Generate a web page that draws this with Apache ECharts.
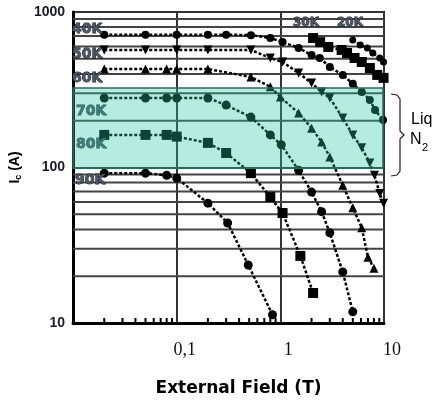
<!DOCTYPE html>
<html>
<head>
<meta charset="utf-8">
<script src="https://cdn.jsdelivr.net/npm/echarts@6/dist/echarts.min.js"></script>
<style>
html, body { margin: 0; padding: 0; background: #fff; }
#chart { width: 440px; height: 403px; }
</style>
</head>
<body>
<div id="chart"></div>
<script>
// external field (T), critical current Ic (A)
const k20 = [[5.0,660],[5.9,614],[6.9,587],[7.8,545],[9.1,506],[9.9,477]];
const k30 = [[2.07,680],[2.42,640],[2.9,596],[3.9,570],[4.4,545],[5.2,506],[6.1,477],[7.3,436],[8.6,394],[9.9,377]];
const k40 = [[0.02,715],[0.05,715],[0.1,715],[0.2,715],[0.3,715],[0.52,710],[0.8,681],[1.05,641],[1.5,587],[2.0,529],[2.4,506],[3.0,443],[4.0,394],[5.0,345],[6.1,306],[7.3,272],[8.2,234],[9.8,202]];
const k50 = [[0.02,570],[0.05,570],[0.1,570],[0.2,570],[0.52,570],[0.8,506],[1.05,477],[1.5,405],[2.0,349],[2.5,306],[3.0,280],[4.0,208],[5.0,162],[6.1,134],[7.3,107],[8.1,89],[9.1,68],[9.9,59]];
const k60 = [[0.02,430],[0.05,430],[0.08,430],[0.1,430],[0.2,430],[0.52,382],[0.8,330],[1.0,284],[1.5,224],[2.0,179],[2.5,146],[3.0,117],[4.0,77],[5.0,55],[6.1,41],[7.0,26.5],[8.0,22.5]];
const k70 = [[0.02,280],[0.05,280],[0.08,280],[0.1,280],[0.2,280],[0.3,252],[0.52,211],[0.8,162],[1.02,140],[1.5,96],[2.0,69.5],[2.5,52],[3.0,38],[4.0,21.3],[5.0,11.8]];
const k80 = [[0.02,162],[0.05,162],[0.08,162],[0.1,158],[0.2,144],[0.3,124],[0.52,92],[0.8,64.5],[1.05,51],[1.56,27],[2.07,15.6]];
const k90 = [[0.02,92],[0.05,92],[0.08,89],[0.1,85.5],[0.2,59],[0.31,44],[0.49,23.6],[0.84,11.3]];

const xRange = [0.01, 10];
const yRange = [10, 1000];
const xTickValues = [0.1, 1, 10];
const xTickText = ['0,1', '1', '10'];
const gridLevels = [20,30,40,50,60,70,80,90,200,300,400,500,600,700,800,900];
const xMinor = [0.02,0.03,0.04,0.05,0.06,0.07,0.08,0.09,0.2,0.3,0.4,0.5,0.6,0.7,0.8,0.9,2,3,4,5,6,7,8,9];
const liqN2 = [99, 325];  // Ic band shaded for liquid nitrogen

var chart = echarts.init(document.getElementById('chart'));

function curve(name, data, symbol, size, rotate) {
    return {
        name: name,
        type: 'line',
        data: data,
        symbol: symbol,
        symbolSize: size,
        symbolRotate: rotate || 0,
        showSymbol: true,
        z: 3,
        lineStyle: { color: '#000', width: 2.5, type: [3, 2] },
        itemStyle: { color: '#000' }
    };
}

function tempLabel(text, x, y, size) {
    return {
        type: 'text', x: x, y: y, z: 5,
        style: {
            text: text,
            font: 'bold ' + size + 'px "DejaVu Sans"',
            fill: '#4b5566', stroke: '#111', lineWidth: 0.8,
            verticalAlign: 'middle'
        }
    };
}

var option = {
    animation: false,
    grid: { left: 72, right: 56, top: 12, bottom: 80, show: true, borderColor: '#111', borderWidth: 2 },
    xAxis: {
        type: 'log', logBase: 10, min: xRange[0], max: xRange[1],
        name: 'External Field (T)', nameLocation: 'middle', nameGap: 57,
        nameTextStyle: { fontFamily: 'DejaVu Sans', fontWeight: 'bold', fontSize: 17, color: '#000', padding: [0, 0, 0, 20] },
        axisLine: { lineStyle: { color: '#000', width: 3 } },
        axisTick: { show: false },
        splitLine: { show: true, lineStyle: { color: '#333', width: 2 } },
        axisLabel: {
            fontFamily: 'Liberation Serif', fontSize: 18, color: '#111', margin: 18, padding: [0, 0, 0, 16],
            formatter: function (v) {
                for (var i = 0; i < xTickValues.length; i++) {
                    if (Math.abs(Math.log10(v) - Math.log10(xTickValues[i])) < 1e-6) return xTickText[i];
                }
                return '';
            }
        }
    },
    yAxis: {
        type: 'log', logBase: 10, min: yRange[0], max: yRange[1],
        name: '{i|I}{s|c}{i| (A)}', nameLocation: 'middle', nameGap: 42,
        nameTextStyle: {
            rich: {
                i: { fontFamily: 'Liberation Sans', fontWeight: 'bold', fontSize: 14, color: '#000' },
                s: { fontFamily: 'Liberation Sans', fontWeight: 'bold', fontSize: 9, color: '#000', padding: [7, 0, 0, 0] }
            }
        },
        axisLine: { show: true, lineStyle: { color: '#000', width: 3 } },
        axisTick: { show: false },
        splitLine: { show: true, lineStyle: { color: '#333', width: 2 } },
        axisLabel: {
            fontFamily: 'Liberation Sans', fontWeight: 'bold', fontSize: 14, color: '#1a1a2a', margin: 8,
            formatter: function (v) { return String(Math.round(v)); }
        }
    },
    series: [
        {
            type: 'custom', silent: true, z: 1,
            data: gridLevels.map(function (v) { return [xRange[0], v]; }),
            renderItem: function (params, api) {
                var a = api.coord([xRange[0], api.value(1)]);
                var b = api.coord([xRange[1], api.value(1)]);
                return { type: 'line', shape: { x1: a[0], y1: a[1], x2: b[0], y2: b[1] },
                         style: { stroke: '#444', lineWidth: 2 } };
            }
        },
        {
            type: 'custom', silent: true, z: 4,
            data: xMinor.map(function (v) { return [v, yRange[0]]; }),
            renderItem: function (params, api) {
                var p = api.coord([api.value(0), api.value(1)]);
                return { type: 'line', shape: { x1: p[0], y1: p[1], x2: p[0], y2: p[1] - 5 },
                         style: { stroke: '#000', lineWidth: 2 } };
            }
        },
        curve('20K', k20, 'circle', 7),
        curve('30K', k30, 'rect', 10),
        curve('40K', k40, 'circle', 8),
        curve('50K', k50, 'triangle', 9, 180),
        curve('60K', k60, 'triangle', 9),
        curve('70K', k70, 'circle', 9),
        curve('80K', k80, 'rect', 10),
        curve('90K', k90, 'circle', 9),
        {
            type: 'custom', silent: true, z: 10,
            data: [[xRange[0], liqN2[0], xRange[1], liqN2[1]]],
            encode: { x: [0, 2], y: [1, 3] },
            renderItem: function (params, api) {
                var a = api.coord([api.value(0), api.value(3)]);
                var b = api.coord([api.value(2), api.value(1)]);
                return { type: 'rect', shape: { x: a[0], y: a[1], width: b[0] - a[0] - 1, height: b[1] - a[1] },
                         style: { fill: 'rgba(40,200,160,0.34)', stroke: '#2b6b5c', lineWidth: 1.5 } };
            }
        }
    ],
    graphic: [
        tempLabel('40K', 72, 29, 14),
        tempLabel('50K', 72, 54, 14),
        tempLabel('60K', 72, 78, 14),
        tempLabel('70K', 76, 111, 14),
        tempLabel('80K', 76, 144, 14),
        tempLabel('90K', 75, 180, 14),
        tempLabel('30K', 293, 23, 12),
        tempLabel('20K', 337, 23, 12),
        {
            type: 'polyline', z: 5,
            shape: { points: [[391,94],[397,95],[400,99],[400,131],[404,135],[400,139],[400,171],[397,175],[391,176]] },
            style: { stroke: '#222', lineWidth: 1.2, fill: null }
        },
        { type: 'text', x: 411, y: 120, style: { text: 'Liq', font: '16px "Liberation Sans"', fill: '#000', verticalAlign: 'middle' } },
        { type: 'text', x: 410, y: 140, style: { text: 'N', font: '16px "Liberation Sans"', fill: '#000', verticalAlign: 'middle' } },
        { type: 'text', x: 422, y: 148, style: { text: '2', font: '11px "Liberation Sans"', fill: '#000', verticalAlign: 'middle' } }
    ]
};

chart.setOption(option);
</script>
</body>
</html>
